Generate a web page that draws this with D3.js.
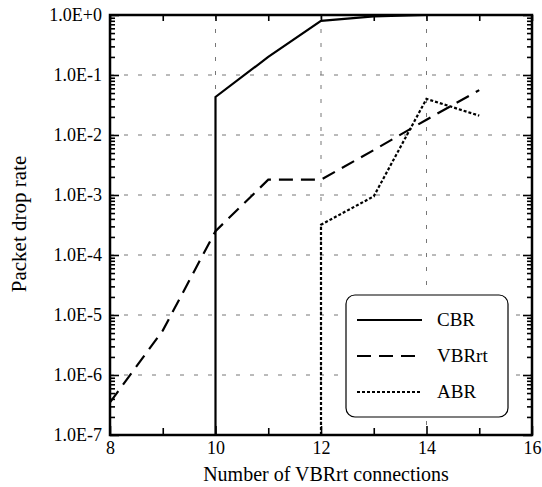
<!DOCTYPE html>
<meta charset="utf-8">
<style>
body { margin: 0; background: #fff; }
.grid line { stroke: #777; stroke-width: 1; stroke-dasharray: 4,10; }
.frame { fill: none; stroke: #000; stroke-width: 2.5px; }
.tick line { stroke: #000; stroke-width: 1.6px; }
</style>
<body>
<script src="https://d3js.org/d3.v7.min.js"></script>
<script>

// data
var xTicks = [8, 10, 12, 14, 16];
var yTicks = [1e0, 1e-1, 1e-2, 1e-3, 1e-4, 1e-5, 1e-6, 1e-7];
var yLabels = ["1.0E+0", "1.0E-1", "1.0E-2", "1.0E-3", "1.0E-4", "1.0E-5", "1.0E-6", "1.0E-7"];

var cbrX = [10, 10, 11, 12, 13, 14, 15];
var cbrY = [1e-7, 0.043, 0.2, 0.8, 0.95, 1.0, 1.0];

var vbrX = [8, 9, 10, 11, 12, 13, 14, 15];
var vbrY = [3.5e-7, 5.5e-6, 2.5e-4, 1.8e-3, 1.8e-3, 5.6e-3, 0.018, 0.056];

var abrX = [12, 12, 13, 14, 15];
var abrY = [1e-7, 3.2e-4, 9.5e-4, 0.04, 0.021];

var series = [
  {name: "CBR", xs: cbrX, ys: cbrY, dash: null},
  {name: "VBRrt", xs: vbrX, ys: vbrY, dash: "14,8"},
  {name: "ABR", xs: abrX, ys: abrY, dash: "3,2"}
];

var serif = "Liberation Serif";

var margin = {top: 15, right: 10, bottom: 52, left: 110},
    width = 532 - margin.left,
    height = 435 - margin.top;

var x = d3.scaleLinear().domain([8, 16]).range([0, width]);
var y = d3.scaleLog().domain([1e-7, 1]).range([height, 0]);

var svg = d3.select("body").append("svg")
    .attr("width", 542)
    .attr("height", 487)
  .append("g")
    .attr("transform", "translate(" + margin.left + "," + margin.top + ")");

// grid lines
var grid = svg.append("g").attr("class", "grid");
grid.selectAll("line.gx")
    .data([10, 12, 14])
  .enter().append("line")
    .attr("x1", function(d) { return x(d); })
    .attr("x2", function(d) { return x(d); })
    .attr("y1", 0).attr("y2", height);
grid.selectAll("line.gy")
    .data(yTicks.slice(1, -1))
  .enter().append("line")
    .attr("x1", 0).attr("x2", width)
    .attr("y1", function(d) { return y(d); })
    .attr("y2", function(d) { return y(d); });

// minor log ticks
var minor = [];
for (var e = -7; e < 0; e++) {
  for (var m = 2; m <= 9; m++) minor.push(m * Math.pow(10, e));
}
var xMinor = [9, 11, 13, 15];

// axes with ticks pointing inside
function addAxis(axis, tr) {
  svg.append("g")
      .attr("transform", tr)
      .call(axis)
      .call(function(g) {
        g.select(".domain").remove();
        g.selectAll("text")
            .attr("font-family", serif)
            .attr("font-size", 18);
      });
}

addAxis(d3.axisBottom(x).tickValues(xTicks).tickSize(-9).tickPadding(6)
    .tickFormat(d3.format("d")), "translate(0," + height + ")");
addAxis(d3.axisBottom(x).tickValues(xMinor).tickSize(-7).tickFormat(""), "translate(0," + height + ")");
addAxis(d3.axisTop(x).tickValues(xTicks.concat(xMinor)).tickSize(-6).tickFormat(""), "translate(0,0)");

addAxis(d3.axisLeft(y).tickValues(yTicks).tickSize(-9).tickPadding(8)
    .tickFormat(function(d, i) { return yLabels[i]; }), "translate(0,0)");
addAxis(d3.axisLeft(y).tickValues(minor).tickSize(-5).tickFormat(""), "translate(0,0)");
addAxis(d3.axisRight(y).tickValues(yTicks).tickSize(-9).tickFormat(""), "translate(" + width + ",0)");
addAxis(d3.axisRight(y).tickValues(minor).tickSize(-5).tickFormat(""), "translate(" + width + ",0)");

// frame
svg.append("rect")
    .attr("class", "frame")
    .attr("width", width)
    .attr("height", height);

// series lines
var line = d3.line()
    .x(function(d) { return x(d[0]); })
    .y(function(d) { return y(d[1]); });

series.forEach(function(s) {
  svg.append("path")
      .datum(d3.zip(s.xs, s.ys))
      .attr("fill", "none")
      .attr("stroke", "#000")
      .attr("stroke-width", 2.2)
      .attr("stroke-dasharray", s.dash)
      .attr("d", line);
});

// legend
var leg = svg.append("g").attr("transform", "translate(" + (346 - margin.left) + "," + (295 - margin.top) + ")");
leg.append("rect")
    .attr("width", 162).attr("height", 122)
    .attr("rx", 9).attr("ry", 9)
    .attr("fill", "#fff").attr("stroke", "#000").attr("stroke-width", 1.2);
series.forEach(function(s, i) {
  var ly = 25 + i * 36;
  leg.append("line")
      .attr("x1", 11).attr("x2", 76)
      .attr("y1", ly).attr("y2", ly)
      .attr("stroke", "#000").attr("stroke-width", 2)
      .attr("stroke-dasharray", s.dash);
  leg.append("text")
      .attr("x", 91).attr("y", ly + 6)
      .attr("font-family", serif)
      .attr("font-size", 19)
      .text(s.name);
});

// axis titles
svg.append("text")
    .attr("x", width / 2 + 5)
    .attr("y", height + 46)
    .attr("text-anchor", "middle")
    .attr("font-family", serif)
    .attr("font-size", 20)
    .text("Number of VBRrt connections");

svg.append("text")
    .attr("transform", "translate(" + (26 - margin.left) + "," + (224 - margin.top) + ") rotate(-90)")
    .attr("text-anchor", "middle")
    .attr("font-family", serif)
    .attr("font-size", 21)
    .text("Packet drop rate");

</script>
</body>
